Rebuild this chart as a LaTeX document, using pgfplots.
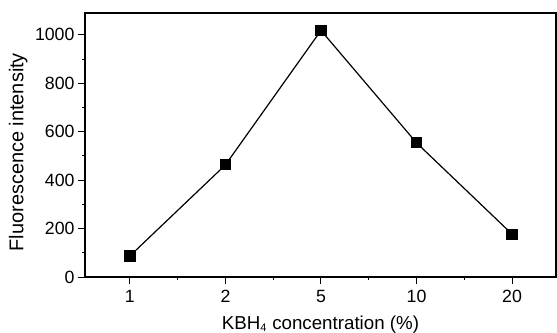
\documentclass[border=0pt]{standalone}
\usepackage{fontspec}
\setmainfont{Liberation Sans}
\usepackage{pgfplots}
\pgfplotsset{compat=1.18}
\begin{document}
\begin{tikzpicture}
\begin{axis}[
  scale only axis, width=471bp, height=264bp,
  xmin=-0.47, xmax=4.46, ymin=0, ymax=1090,
  xtick={0,1,2,3,4}, xticklabels={1,2,5,10,20},
  minor xtick={0.5,1.5,2.5,3.5},
  ytick={0,200,400,600,800,1000},
  minor ytick={100,300,500,700,900},
  tick align=outside, major tick length=7bp, minor tick length=3bp,
  xtick pos=bottom, ytick pos=left,
  axis line style={line width=1.6bp},
  every tick/.style={line width=1bp, black},
  tick label style={font=\fontsize{17.8}{20}\selectfont},
  xticklabel style={yshift=-3bp},
  xlabel={KBH\textsubscript{\fontsize{11}{12}\selectfont 4} concentration (\%)},
  ylabel={Fluorescence intensity},
  xlabel style={at={(axis description cs:0.5,-0.197)}, anchor=base, font=\fontsize{18.8}{20}\selectfont},
  ylabel style={at={(axis description cs:-0.131,0.473)}, anchor=base, rotate=0, font=\fontsize{20}{22}\selectfont},
  /pgf/number format/assume math mode=true,
  /pgf/number format/1000 sep={},
]
\addplot[black, line width=1.2bp, mark=square*, mark size=5bp, mark options={solid}]
  coordinates {(0,87) (1,463) (2,1018) (3,554) (4,177)};
\coordinate (bl) at (rel axis cs:0,0);
\end{axis}
\pgfresetboundingbox
\path (bl) ++(-85bp,-56bp) rectangle ++(557bp,333bp);
\end{tikzpicture}
\end{document}
